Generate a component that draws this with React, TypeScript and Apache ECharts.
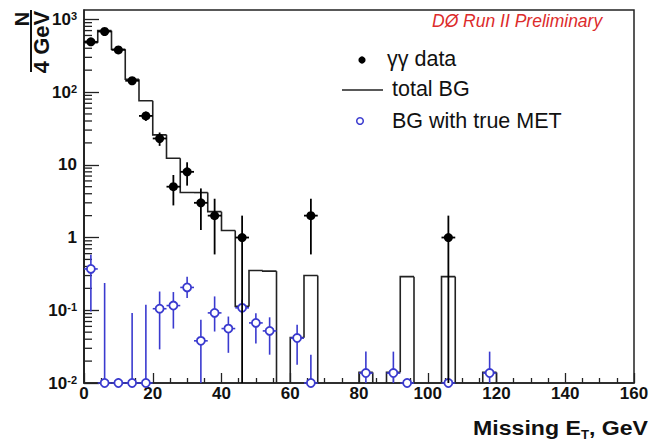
import React, { useEffect, useRef } from 'react';
import * as echarts from 'echarts';

// ---- data ----
const binLow = [0, 4, 8, 12, 16, 20, 24, 28, 32, 36, 40, 44, 48, 52, 56, 60, 64, 68, 72, 76, 80, 84, 88, 92, 96, 100, 104, 108, 112, 116, 120];
const totalBG = [477, 698, 387, 150, 76, 25.8, 12.3, 4.15, 4.15, 2.27, 1.25, 0.113, 0.352, 0.345, 0, 0.042, 0.3, 0, 0, 0, 0.014, 0, 0.014, 0.29, 0, 0, 0.29, 0, 0, 0.014, 0];

const dataX = [2, 6, 10, 14, 18, 22, 26, 30, 34, 38, 46, 66, 106];
const dataN = [490, 680, 380, 143, 47, 23, 5, 8, 3, 2, 1, 2, 1];

const trueX = [2, 6, 10, 14, 18, 22, 26, 30, 34, 38, 42, 46, 50, 54, 62, 66, 82, 90, 94, 106, 118];
const trueV = [0.37, 0, 0, 0, 0, 0.105, 0.116, 0.206, 0.038, 0.092, 0.056, 0.108, 0.067, 0.052, 0.0415, 0, 0.0137, 0.0137, 0, 0, 0.0137];
const trueLo = [0.096, 0, 0, 0, 0, 0.029, 0.056, 0.147, 0, 0.051, 0.026, 0.091, 0.035, 0.0245, 0.0178, 0, 0, 0, 0, 0, 0];
const trueHi = [0.58, 0.237, 0, 0.092, 0.119, 0.181, 0.178, 0.29, 0.074, 0.155, 0.082, 0.139, 0.091, 0.08, 0.063, 0.0245, 0.0272, 0.027, 0, 0, 0.027];

const xTickLabels = ['0', '20', '40', '60', '80', '100', '120', '140', '160'];
const legendLabels = ['\u03b3\u03b3 data', 'total BG', 'BG with true MET'];

const BIN_W = 4;
const YMIN = 0.01;
const YMAX = 1343;
const FONT = "'Liberation Sans', Arial, Helvetica, sans-serif";
const BLUE = '#3a3acf';

const clamp = (v: number) => Math.max(v, YMIN);

export default function App() {
  const ref = useRef<HTMLDivElement>(null);
  useEffect(() => {
    if (!ref.current) return;
    const chart = echarts.init(ref.current, undefined, { renderer: 'svg' });

    const histData = binLow.map((lo, i) => [lo, lo + BIN_W, clamp(totalBG[i]), clamp(i > 0 ? totalBG[i - 1] : YMIN)]);
    const blackData = dataX.map((x, i) => {
      const e = Math.sqrt(dataN[i]);
      return [x, clamp(dataN[i]), clamp(dataN[i] - e), clamp(dataN[i] + e)];
    });
    const blueData = trueX.map((x, i) => [x, clamp(trueV[i]), clamp(trueLo[i]), clamp(trueHi[i])]);
    const minorVals: number[][] = [];
    for (let n = -2; n <= 3; n++) {
      for (let k = 2; k <= 9; k++) {
        const v = k * Math.pow(10, n);
        if (v < YMAX) minorVals.push([0, v]);
      }
    }

    const pointRender = (color: string, filled: boolean) => (params: any, api: any) => {
      const x = api.value(0), v = api.value(1), lo = api.value(2), hi = api.value(3);
      const c = api.coord([x, v]);
      const pLo = api.coord([x, lo]);
      const pHi = api.coord([x, hi]);
      const pL = api.coord([x - BIN_W / 2, v]);
      const pR = api.coord([x + BIN_W / 2, v]);
      const children: any[] = [];
      if (hi > lo) {
        children.push({ type: 'line', shape: { x1: pLo[0], y1: pLo[1], x2: pHi[0], y2: pHi[1] }, style: { stroke: color, lineWidth: filled ? 1.8 : 1.6 } });
      }
      children.push({ type: 'line', shape: { x1: pL[0], y1: pL[1], x2: pR[0], y2: pR[1] }, style: { stroke: color, lineWidth: filled ? 1.8 : 1.6 } });
      children.push({ type: 'circle', shape: { cx: c[0], cy: c[1], r: filled ? 4.5 : 4 }, style: filled ? { fill: color } : { fill: '#fff', stroke: color, lineWidth: 1.8 } });
      return { type: 'group', children };
    };

    const supLabel = (v: number) => {
      const n = Math.round(Math.log10(v));
      if (n === 0) return '{b|1}';
      if (n === 1) return '{b|10}';
      return '{b|10}{s|' + n + '}';
    };

    chart.setOption({
      animation: false,
      grid: { left: 84, right: 18, top: 10, bottom: 60, show: true, borderColor: '#222', borderWidth: 1.5, backgroundColor: 'transparent', outerBoundsMode: 'none' },
      xAxis: {
        type: 'value', min: 0, max: 160, interval: 20,
        axisLine: { show: true, onZero: false, lineStyle: { color: '#222', width: 1.5 } },
        axisTick: { show: true, inside: true, length: 10, lineStyle: { color: '#222', width: 1.3 } },
        minorTick: { show: true, splitNumber: 4, length: 5, lineStyle: { color: '#222', width: 1.3 } },
        splitLine: { show: false },
        axisLabel: {
          margin: 2, fontSize: 17, fontWeight: 'bold', color: '#111', fontFamily: FONT,
          formatter: (v: number) => xTickLabels[Math.round(v / 20)] ?? '',
        },
      },
      yAxis: {
        type: 'log', logBase: 10, min: YMIN, max: YMAX,
        axisLine: { show: true, lineStyle: { color: '#222', width: 1.5 } },
        axisTick: { show: true, inside: true, length: 15, lineStyle: { color: '#222', width: 1.3 } },
        splitLine: { show: false },
        axisLabel: {
          margin: 7, showMaxLabel: false, color: '#111', fontFamily: FONT,
          formatter: supLabel,
          rich: {
            b: { fontSize: 17, fontWeight: 'bold', fontFamily: FONT, color: '#111' },
            s: { fontSize: 11, fontWeight: 'bold', fontFamily: FONT, color: '#111', verticalAlign: 'top', lineHeight: 17 },
          },
        },
      },
      series: [
        {
          type: 'custom', name: 'minorTicks', data: minorVals, z: 3, silent: true,
          renderItem: (params: any, api: any) => {
            const c = api.coord([api.value(0), api.value(1)]);
            return { type: 'line', shape: { x1: c[0], y1: c[1], x2: c[0] + 8, y2: c[1] }, style: { stroke: '#222', lineWidth: 1.3 } };
          },
        },
        {
          type: 'custom', name: 'total BG', data: histData, z: 4, silent: true,
          renderItem: (params: any, api: any) => {
            const lo = api.value(0), hi = api.value(1), v = api.value(2), prev = api.value(3);
            const a = api.coord([lo, prev]);
            const b = api.coord([lo, v]);
            const c = api.coord([hi, v]);
            const pts = v > YMIN ? [a, b, c] : [a, b];
            return { type: 'polyline', shape: { points: pts }, style: { stroke: '#222', lineWidth: 1.6, fill: 'none' } };
          },
        },
        {
          type: 'custom', name: 'BG with true MET', data: blueData, z: 5, silent: true,
          renderItem: pointRender(BLUE, false),
        },
        {
          type: 'custom', name: 'data', data: blackData, z: 6, silent: true,
          renderItem: pointRender('#000', true),
        },
      ],
      graphic: [
        { type: 'text', x: 432, y: 21, style: { text: 'D\u00d8 Run II Preliminary', fill: '#dc2b2b', font: `italic 17.5px ${FONT}`, verticalAlign: 'middle', align: 'left' } },
        { type: 'circle', shape: { cx: 362, cy: 60, r: 3.6 }, style: { fill: '#000' } },
        { type: 'text', x: 387, y: 59, style: { text: legendLabels[0], fill: '#111', font: `21.5px ${FONT}`, verticalAlign: 'middle', align: 'left' } },
        { type: 'line', shape: { x1: 342, y1: 90, x2: 383, y2: 90 }, style: { stroke: '#222', lineWidth: 1.6 } },
        { type: 'text', x: 392, y: 89, style: { text: legendLabels[1], fill: '#111', font: `21.5px ${FONT}`, verticalAlign: 'middle', align: 'left' } },
        { type: 'circle', shape: { cx: 360, cy: 121, r: 3.3 }, style: { fill: '#fff', stroke: BLUE, lineWidth: 1.5 } },
        { type: 'text', x: 392, y: 121, style: { text: legendLabels[2], fill: '#111', font: `21.5px ${FONT}`, verticalAlign: 'middle', align: 'left' } },
        {
          type: 'text', x: 648, y: 428, scaleX: 1.1,
          style: {
            text: '{a|Missing E}{t|T}{a|, GeV}', align: 'right', verticalAlign: 'middle',
            rich: {
              a: { fontSize: 21, fontWeight: 'bold', fontFamily: FONT, fill: '#111', lineHeight: 22 },
              t: { fontSize: 12, fontWeight: 'bold', fontFamily: FONT, fill: '#111', verticalAlign: 'bottom', lineHeight: 14, padding: [0, 0, -2, 0] },
            },
          },
        },
        { type: 'text', x: 22, y: 19, rotation: Math.PI / 2, style: { text: 'N', fill: '#111', font: `bold 20px ${FONT}`, align: 'center', verticalAlign: 'middle' } },
        { type: 'line', shape: { x1: 31, y1: 10, x2: 31, y2: 72 }, style: { stroke: '#111', lineWidth: 2 } },
        { type: 'text', x: 41, y: 42, rotation: Math.PI / 2, style: { text: '4 GeV', fill: '#111', font: `bold 22px ${FONT}`, align: 'center', verticalAlign: 'middle' } },
      ],
    });
    return () => chart.dispose();
  }, []);
  return <div ref={ref} style={{ position: 'absolute', left: 0, top: 0, width: 652, height: 443 }} />;
}
